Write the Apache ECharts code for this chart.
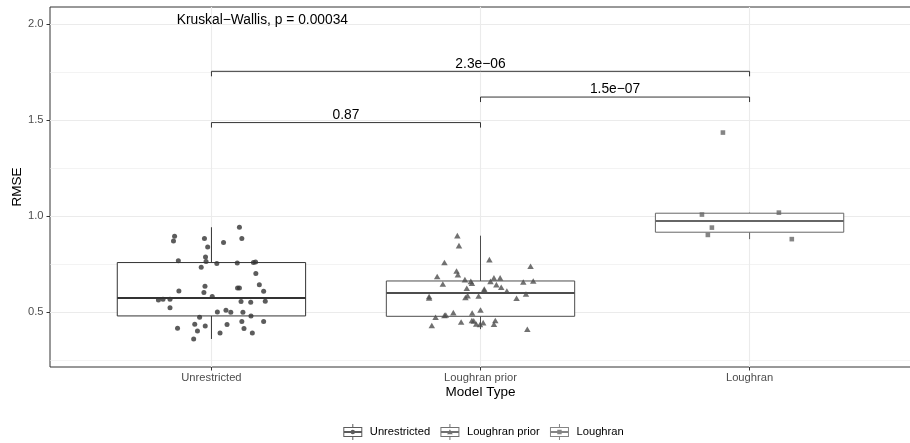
<!DOCTYPE html>
<html>
<head>
<meta charset="utf-8">
<script src="https://cdn.jsdelivr.net/npm/echarts@6/dist/echarts.min.js"></script>
<style>
  html, body { margin: 0; padding: 0; background: #fff; }
  #chart { width: 910px; height: 443px; }
</style>
</head>
<body>
<div id="chart"></div>
<script>
// categories and axis ticks
const categories = ['Unrestricted', 'Loughran prior', 'Loughran'];
const xPositions = [1, 2, 3];
const yTicks = [0.5, 1.0, 1.5, 2.0];
const yMinorTicks = [0.25, 0.75, 1.25, 1.75];

// box stats: lower whisker, q1, median, q3, upper whisker
const boxUnrestricted = [0.361, 0.481, 0.575, 0.759, 0.943];
const boxPrior = [0.412, 0.479, 0.601, 0.663, 0.899];
const boxLoughran = [0.881, 0.917, 0.976, 1.016, 1.019];

// jittered points (x offset from the category, RMSE)
const unrestrictedJitter = [-0.137, -0.141, 0.104, 0.113, -0.026, 0.045, -0.014, -0.123, -0.022, -0.020, 0.020, -0.038, 0.096, 0.156, 0.164, 0.165, -0.121, -0.024, -0.028, 0.097, 0.104, 0.178, 0.194, 0.003, -0.197, -0.180, -0.154, -0.154, 0.110, 0.146, 0.200, 0.022, 0.054, 0.072, 0.117, 0.147, -0.044, -0.126, -0.062, -0.023, -0.052, 0.058, 0.113, 0.194, 0.121, 0.032, 0.152, -0.066];
const unrestrictedRmse = [0.896, 0.871, 0.943, 0.884, 0.884, 0.863, 0.840, 0.769, 0.788, 0.764, 0.754, 0.734, 0.757, 0.759, 0.762, 0.702, 0.611, 0.635, 0.603, 0.627, 0.627, 0.644, 0.609, 0.582, 0.564, 0.568, 0.568, 0.524, 0.556, 0.552, 0.557, 0.502, 0.510, 0.500, 0.500, 0.481, 0.474, 0.417, 0.438, 0.429, 0.403, 0.436, 0.452, 0.452, 0.415, 0.392, 0.392, 0.361];

const priorJitter = [-0.086, -0.080, -0.134, 0.033, 0.186, -0.089, -0.084, -0.161, -0.140, -0.058, -0.036, -0.032, 0.050, 0.073, 0.037, 0.059, 0.077, 0.159, 0.196, -0.051, 0.014, 0.014, 0.098, 0.169, 0.134, -0.007, -0.048, -0.056, -0.191, -0.191, -0.101, -0.031, 0.000, -0.134, -0.129, -0.167, -0.181, -0.072, -0.032, -0.025, -0.016, -0.002, 0.010, 0.055, 0.050, 0.174];
const priorRmse = [0.899, 0.847, 0.759, 0.774, 0.740, 0.715, 0.696, 0.686, 0.647, 0.670, 0.661, 0.651, 0.679, 0.679, 0.661, 0.644, 0.630, 0.658, 0.663, 0.625, 0.621, 0.615, 0.611, 0.595, 0.573, 0.585, 0.587, 0.577, 0.582, 0.574, 0.498, 0.496, 0.512, 0.484, 0.486, 0.474, 0.431, 0.449, 0.457, 0.455, 0.439, 0.436, 0.446, 0.457, 0.438, 0.412];

const loughranJitter = [-0.099, -0.177, 0.109, -0.140, -0.155, 0.157];
const loughranRmse = [1.436, 1.009, 1.019, 0.941, 0.903, 0.881];

// pairwise comparisons
const bracketFrom = [1, 2, 1];
const bracketTo = [2, 3, 3];
const bracketY = [1.488, 1.621, 1.755];
const bracketLabels = ['0.87', '1.5e\u221207', '2.3e\u221206'];

const testLabel = 'Kruskal\u2212Wallis, p = 0.00034';
const testPos = [0.871, 2.021];

const groupColors = ['#333333', '#4d4d4d', '#666666'];
const FONT = '"Liberation Sans", Arial, sans-serif';

// legend glyph: whiskers + box outline + median + marker
const glyphBase = 'M9 0H10V3H9Z M0 3H19V13H0Z M1 4V12H18V4Z M1 7H18V9H1Z M9 13H10V16H9Z ';
const legendIcons = [
  'path://' + glyphBase + 'M7.3 8A2.2 2.2 0 1 1 11.7 8A2.2 2.2 0 1 1 7.3 8Z',
  'path://' + glyphBase + 'M9.5 5.2L12.3 10.2H6.7Z',
  'path://' + glyphBase + 'M7.3 5.8H11.7V10.2H7.3Z'
];

function jitterData(pos, offsets, values) {
  return values.map((v, i) => [pos + offsets[i], v]);
}

function renderBox(params, api) {
  const x = api.value(0);
  const lo = api.value(1), q1 = api.value(2), med = api.value(3), q3 = api.value(4), hi = api.value(5);
  const half = 0.35;
  const tl = api.coord([x - half, q3]);
  const br = api.coord([x + half, q1]);
  const mL = api.coord([x - half, med]);
  const mR = api.coord([x + half, med]);
  const pHi = api.coord([x, hi]);
  const pLo = api.coord([x, lo]);
  const color = groupColors[params.dataIndex];
  return {
    type: 'group',
    children: [
      { type: 'line', shape: { x1: pHi[0], y1: pHi[1], x2: pHi[0], y2: tl[1] }, style: { stroke: color, lineWidth: 1 } },
      { type: 'line', shape: { x1: pLo[0], y1: pLo[1], x2: pLo[0], y2: br[1] }, style: { stroke: color, lineWidth: 1 } },
      { type: 'rect', shape: { x: tl[0], y: tl[1], width: br[0] - tl[0], height: br[1] - tl[1] }, style: { fill: '#fff', stroke: color, lineWidth: 1 } },
      { type: 'line', shape: { x1: mL[0], y1: mL[1], x2: mR[0], y2: mR[1] }, style: { stroke: color, lineWidth: 2 } }
    ]
  };
}

function renderBracket(params, api) {
  const a = api.coord([api.value(0), api.value(2)]);
  const b = api.coord([api.value(1), api.value(2)]);
  const tip = 5;
  return {
    type: 'group',
    children: [
      { type: 'polyline', shape: { points: [[a[0], a[1] + tip], [a[0], a[1]], [b[0], b[1]], [b[0], b[1] + tip]] },
        style: { stroke: '#333', lineWidth: 1, fill: null } },
      { type: 'text', x: (a[0] + b[0]) / 2, y: a[1] - 0.5,
        style: { text: bracketLabels[params.dataIndex], align: 'center', textAlign: 'center', verticalAlign: 'bottom', textVerticalAlign: 'bottom',
          fontSize: 13.8, fontFamily: FONT, fill: '#000' } }
    ]
  };
}

function renderTestLabel(params, api) {
  const p = api.coord([api.value(0), api.value(1)]);
  return {
    type: 'text', x: p[0], y: p[1],
    style: { text: testLabel, align: 'left', textAlign: 'left', verticalAlign: 'middle', textVerticalAlign: 'middle',
      fontSize: 13.8, fontFamily: FONT, fill: '#000' }
  };
}

const gridLines = [
  ...yMinorTicks.map(v => ({ yAxis: v, lineStyle: { color: '#ebebeb', width: 0.6, type: 'solid' } })),
  ...yTicks.map(v => ({ yAxis: v, lineStyle: { color: '#ebebeb', width: 1.1, type: 'solid' } })),
  ...xPositions.map(v => ({ xAxis: v, lineStyle: { color: '#ebebeb', width: 1.1, type: 'solid' } }))
];

const chart = echarts.init(document.getElementById('chart'), null, { renderer: 'canvas' });

chart.setOption({
  animation: false,
  backgroundColor: '#fff',
  textStyle: { fontFamily: FONT },
  grid: {
    left: 50, top: 7, width: 861, height: 360,
    outerBoundsMode: 'none', containLabel: false,
    show: true, borderColor: '#333', borderWidth: 1, backgroundColor: '#fff'
  },
  legend: {
    left: 343.3, top: 424, padding: 0,
    itemWidth: 19, itemHeight: 16, itemGap: 10.3,
    textStyle: { fontSize: 11.2, color: '#000', fontFamily: FONT, padding: [0, 0, 0, 2.5] },
    itemStyle: { borderWidth: 0 },
    data: categories.map((c, i) => ({ name: c, icon: legendIcons[i] }))
  },
  xAxis: {
    type: 'value', min: 0.4, max: 3.6,
    name: 'Model Type', nameLocation: 'middle', nameGap: 18, nameMoveOverlap: false,
    nameTextStyle: { fontSize: 13.5, color: '#000', fontFamily: FONT },
    axisLine: { show: false },
    axisTick: { show: true, customValues: xPositions, length: 3.5, lineStyle: { color: '#333' } },
    axisLabel: { customValues: xPositions, formatter: v => categories[Math.round(v) - 1], fontSize: 11.2, color: '#4d4d4d', margin: 5.5 },
    splitLine: { show: false }
  },
  yAxis: {
    type: 'value', min: 0.215, max: 2.09,
    name: 'RMSE', nameLocation: 'middle', nameGap: 26, nameMoveOverlap: false,
    nameTextStyle: { fontSize: 13.5, color: '#000', fontFamily: FONT },
    axisLine: { show: false },
    axisTick: { show: true, customValues: yTicks, length: 3.5, lineStyle: { color: '#333' } },
    axisLabel: { customValues: yTicks, formatter: v => v.toFixed(1), fontSize: 11.2, color: '#4d4d4d', margin: 6.5 },
    splitLine: { show: false }
  },
  series: [
    {
      name: 'grid', type: 'scatter', data: [], silent: true, z: 0,
      markLine: { silent: true, symbol: 'none', z: 0, label: { show: false }, animation: false, data: gridLines }
    },
    {
      name: 'boxes', type: 'custom', z: 2, silent: true,
      renderItem: renderBox,
      data: [[1, ...boxUnrestricted], [2, ...boxPrior], [3, ...boxLoughran]],
      encode: { x: 0, y: [1, 2, 3, 4, 5] }
    },
    {
      name: categories[0], type: 'scatter', z: 3, symbol: 'circle', symbolSize: 5,
      itemStyle: { color: groupColors[0] },
      data: jitterData(1, unrestrictedJitter, unrestrictedRmse)
    },
    {
      name: categories[1], type: 'scatter', z: 3, symbol: 'triangle', symbolSize: [6.5, 5.6],
      itemStyle: { color: groupColors[1] },
      data: jitterData(2, priorJitter, priorRmse)
    },
    {
      name: categories[2], type: 'scatter', z: 3, symbol: 'rect', symbolSize: 4.6,
      itemStyle: { color: groupColors[2] },
      data: jitterData(3, loughranJitter, loughranRmse)
    },
    {
      name: 'brackets', type: 'custom', z: 4, silent: true,
      renderItem: renderBracket,
      data: bracketFrom.map((f, i) => [f, bracketTo[i], bracketY[i]]),
      encode: { x: [0, 1], y: 2 }
    },
    {
      name: 'test', type: 'custom', z: 4, silent: true,
      renderItem: renderTestLabel,
      data: [testPos],
      encode: { x: 0, y: 1 }
    }
  ]
});
</script>
</body>
</html>
